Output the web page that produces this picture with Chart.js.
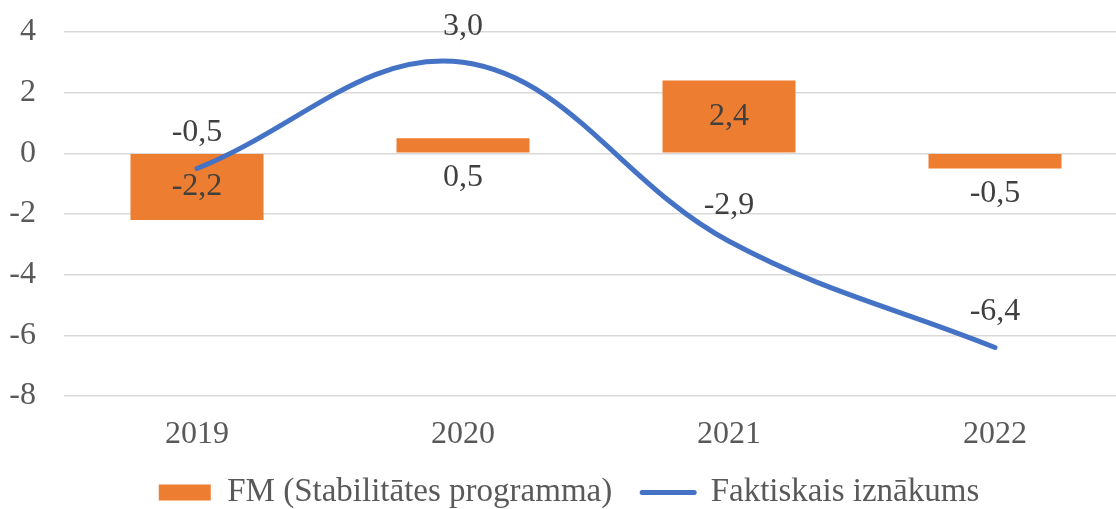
<!DOCTYPE html>
<html>
<head>
<meta charset="utf-8">
<script src="https://cdn.jsdelivr.net/npm/chart.js@4.4.1/dist/chart.umd.min.js"></script>
<style>
    html, body { margin: 0; padding: 0; background: #fff; overflow: hidden; }
    #wrap { width: 1130px; height: 519px; position: relative; }
</style>
</head>
<body>
<div id="wrap"><canvas id="budgetChart"></canvas></div>
<script>
// Chart data
const years = ['2019', '2020', '2021', '2022'];
const fmForecast = [-2.2, 0.5, 2.4, -0.5];
const actualResult = [-0.5, 3.0, -2.9, -6.4];
const yTicks = [4, 2, 0, -2, -4, -6, -8];

const ORANGE = '#ED7D31';
const BLUE = '#4472C4';
const FONT = "'Liberation Serif', 'Times New Roman', serif";
const FONT_SIZE = 32;

// Helper: number with decimal comma
function fmt(v) {
    return v.toFixed(1).replace('.', ',');
}

// Draws the value labels next to bars and line points
const valueLabels = {
    id: 'valueLabels',
    afterDatasetsDraw(chart) {
        const ctx = chart.ctx;
        ctx.save();
        ctx.font = FONT_SIZE + 'px ' + FONT;
        ctx.fillStyle = '#404040';
        ctx.textAlign = 'center';
        ctx.textBaseline = 'middle';
        chart.data.datasets.forEach((ds, i) => {
            const meta = chart.getDatasetMeta(i);
            meta.data.forEach((el, j) => {
                const v = ds.data[j];
                let y;
                if (ds.type === 'line') {
                    y = el.y - 36;
                } else {
                    const top = Math.min(el.y, el.base);
                    const bottom = Math.max(el.y, el.base);
                    y = (bottom - top) > 40 ? (top + bottom) / 2 : bottom + 25;
                }
                ctx.fillText(fmt(v), el.x, y);
            });
        });
        ctx.restore();
    }
};

const ctx = document.getElementById('budgetChart').getContext('2d');
new Chart(ctx, {
    data: {
        labels: years,
        datasets: [
            {
                type: 'line',
                label: 'Faktiskais iznākums',
                data: actualResult,
                borderColor: BLUE,
                backgroundColor: BLUE,
                borderWidth: 5,
                borderCapStyle: 'round',
                tension: 0.38,
                pointRadius: 0,
                order: 0
            },
            {
                type: 'bar',
                label: 'FM (Stabilitātes programma)',
                data: fmForecast,
                backgroundColor: ORANGE,
                categoryPercentage: 1,
                barPercentage: 0.5,
                order: 1
            }
        ]
    },
    options: {
        responsive: true,
        maintainAspectRatio: false,
        animation: false,
        layout: {
            padding: { left: 10, right: 2, top: 32, bottom: 0 }
        },
        scales: {
            x: {
                grid: { display: false, drawTicks: false },
                border: { display: false },
                afterFit: axis => { axis.height = 50; },
                ticks: {
                    color: '#595959',
                    font: { family: FONT, size: FONT_SIZE },
                    padding: 19
                }
            },
            y: {
                min: -8,
                max: 4,
                afterBuildTicks: axis => {
                    axis.ticks = yTicks.map(v => ({ value: v }));
                },
                afterFit: axis => {
                    axis.width = 54;
                    axis.paddingTop = 0;
                    axis.paddingBottom = 0;
                },
                grid: {
                    color: '#d9d9d9',
                    lineWidth: 1.5,
                    drawTicks: false
                },
                border: { display: false },
                ticks: {
                    color: '#595959',
                    font: { family: FONT, size: FONT_SIZE },
                    padding: 28
                }
            }
        },
        plugins: {
            tooltip: { enabled: false },
            legend: {
                position: 'bottom',
                reverse: true,
                labels: {
                    usePointStyle: true,
                    boxWidth: 52,
                    boxHeight: 16,
                    pointStyleWidth: 52,
                    padding: 30,
                    color: '#595959',
                    font: { family: FONT, size: 33 },
                    generateLabels: chart => chart.data.datasets.map((ds, i) => ({
                        text: ds.label,
                        datasetIndex: i,
                        fillStyle: ds.backgroundColor,
                        strokeStyle: ds.type === 'line' ? ds.borderColor : 'rgba(0,0,0,0)',
                        lineWidth: ds.type === 'line' ? 5 : 0,
                        lineCap: 'round',
                        pointStyle: ds.type === 'line' ? 'line' : 'rect',
                        fontColor: '#595959',
                        hidden: false
                    }))
                }
            }
        }
    },
    plugins: [valueLabels]
});
</script>
</body>
</html>
